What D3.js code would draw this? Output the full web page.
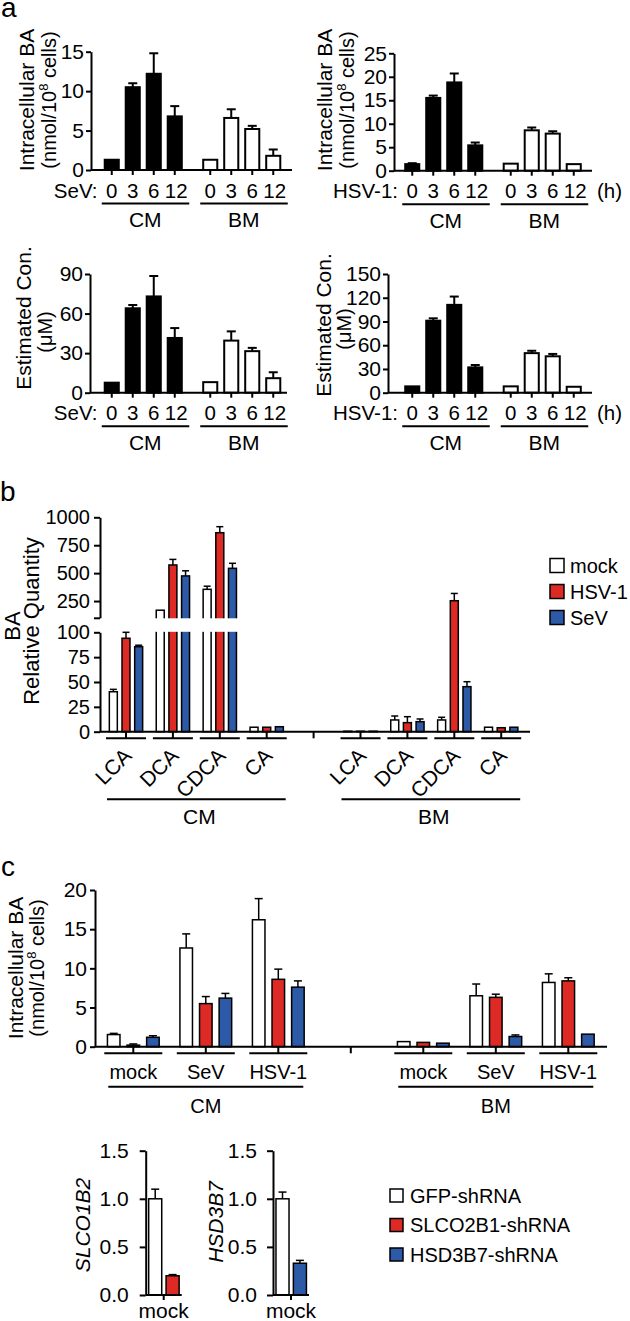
<!DOCTYPE html>
<html><head><meta charset="utf-8">
<script src="https://cdn.jsdelivr.net/npm/d3@7"></script>
<style>body{margin:0;background:#fff}</style>
</head><body>
<script>
// ---------------- DATA ----------------
// Panel a
const timeLabels = ["0", "3", "6", "12"];
const cellGroups = ["CM", "BM"];
const sevIntraCM = [1.3, 10.5, 12.2, 6.8];
const sevIntraCMErr = [0.1, 0.5, 2.6, 1.3];
const sevIntraBM = [1.3, 6.6, 5.2, 1.8];
const sevIntraBMErr = [0.1, 1.1, 0.4, 0.8];
const hsvIntraCM = [1.4, 15.5, 18.8, 5.4];
const hsvIntraCMErr = [0.2, 0.5, 1.9, 0.6];
const hsvIntraBM = [1.5, 8.6, 7.9, 1.4];
const hsvIntraBMErr = [0, 0.6, 0.5, 0];
const sevConCM = [7.6, 64, 73, 41.5];
const sevConCMErr = [0.5, 2.5, 15.5, 7.5];
const sevConBM = [8, 39.5, 31.5, 11];
const sevConBMErr = [0.5, 7, 2.5, 4.5];
const hsvConCM = [8, 91, 111, 32];
const hsvConCMErr = [0.5, 3, 10.5, 3];
const hsvConBM = [8, 50, 46, 7.5];
const hsvConBMErr = [0, 3, 3, 0];
const ticksSevIntra = [0, 5, 10, 15];
const ticksHsvIntra = [0, 5, 10, 15, 20, 25];
const ticksSevCon = [0, 30, 60, 90];
const ticksHsvCon = [0, 30, 60, 90, 120, 150];

// Panel b
const baTypes = ["LCA", "DCA", "CDCA", "CA"];
const bSeries = ["mock", "HSV-1", "SeV"];
const bMockCM = [40.2, 168, 355, 4.5];
const bMockCMErr = [2.4, 6, 28, 0.5];
const bHsvCM = [94, 573, 862, 4.5];
const bHsvCMErr = [6, 50, 54, 0.5];
const bSevCM = [85.5, 475, 543, 5];
const bSevCMErr = [1.5, 46, 45, 0.5];
const bMockBM = [0.5, 11.8, 11.8, 4.5];
const bMockBMErr = [0, 4, 2.7, 0.3];
const bHsvBM = [0.5, 9.1, 253, 4];
const bHsvBMErr = [0, 6, 65, 0.3];
const bSevBM = [0.5, 10.1, 45.3, 4.5];
const bSevBMErr = [0, 2.7, 5, 0.3];
const bTicksLower = [0, 25, 50, 75, 100];
const bTicksUpper = [100, 250, 500, 750, 1000];

// Panel c
const infections = ["mock", "SeV", "HSV-1"];
const shSeries = ["GFP-shRNA", "SLCO2B1-shRNA", "HSD3B7-shRNA"];
const cGfpCM = [1.55, 12.6, 16.2];
const cGfpCMErr = [0.15, 1.8, 2.7];
const cSlcoCM = [0.2, 5.5, 8.6];
const cSlcoCMErr = [0.15, 0.9, 1.3];
const cHsdCM = [1.2, 6.2, 7.6];
const cHsdCMErr = [0.2, 0.6, 0.8];
const cGfpBM = [0.65, 6.5, 8.2];
const cGfpBMErr = [0.1, 1.5, 1.1];
const cSlcoBM = [0.55, 6.3, 8.4];
const cSlcoBMErr = [0.05, 0.4, 0.4];
const cHsdBM = [0.45, 1.3, 1.6];
const cHsdBMErr = [0.05, 0.2, 0.1];
const cTicks = [0, 5, 10, 15, 20];
const kdBars = ["GFP-shRNA", "knockdown"];
const kdSlco = [1.0, 0.2];
const kdSlcoErr = [0.1, 0.012];
const kdHsd = [1.0, 0.33];
const kdHsdErr = [0.07, 0.03];
const kdTicks = [0, 0.5, 1.0, 1.5];

// ---------------- STYLE ----------------
const FONT = "'Liberation Sans', Arial, Helvetica, sans-serif";
const RED = "#dd2a24", BLUE = "#2c5aa6";
const seriesFill = ["#ffffff", RED, BLUE];
const shFill = ["#ffffff", RED, BLUE];

const svg = d3.select("body").append("svg").attr("width", 630).attr("height", 1321)
  .style("font-family", FONT);

function txt(g, x, y, s, size, anchor) {
  return g.append("text").attr("x", x).attr("y", y).attr("font-size", size)
    .attr("text-anchor", anchor || "start").attr("fill", "#000").text(s);
}
function line(g, x1, y1, x2, y2, w) {
  return g.append("line").attr("x1", x1).attr("y1", y1).attr("x2", x2).attr("y2", y2)
    .attr("stroke", "#000").attr("stroke-width", w || 2);
}
function errBar(g, cx, yv, ye, cap, w) {
  if (yv - ye < 0.8) return;
  line(g, cx, yv, cx, ye, w);
  line(g, cx - cap / 2, ye, cx + cap / 2, ye, w);
}
function rotTitle(g, x, cy, s, size, italic) {
  const t = g.append("text").attr("transform", `translate(${x},${cy}) rotate(-90)`)
    .attr("text-anchor", "middle").attr("font-size", size).attr("fill", "#000");
  if (italic) t.attr("font-style", "italic");
  t.text(s);
  return t;
}
function rotUnits(g, x, cy, size) {
  const t = g.append("text").attr("transform", `translate(${x},${cy}) rotate(-90)`)
    .attr("text-anchor", "middle").attr("font-size", size).attr("fill", "#000");
  t.append("tspan").text("(nmol/10");
  t.append("tspan").attr("font-size", size * 0.65).attr("dy", -size * 0.38).text("8");
  t.append("tspan").attr("dy", size * 0.38).text(" cells)");
  return t;
}
function styleAxis(sel, size) {
  sel.attr("font-family", FONT).attr("font-size", size);
  sel.select(".domain").attr("stroke-width", 2);
  sel.selectAll(".tick line").attr("stroke-width", 2);
  sel.selectAll(".tick text").attr("fill", "#000");
}

// ---------------- PANEL A ----------------
function drawA(cfg) {
  const g = svg.append("g");
  const y = d3.scaleLinear().domain([0, cfg.ticks[cfg.ticks.length - 1]]).range([cfg.y0, cfg.yTop]);
  const outer = d3.scaleBand().domain(cellGroups).range([cfg.ox + 101.25, cfg.ox + 283.75]).paddingInner(0.147);
  const inner = d3.scaleBand().domain(timeLabels).range([0, outer.bandwidth()]).paddingInner(0.33).paddingOuter(0.165);
  const groups = [
    { k: "CM", v: cfg.cm, e: cfg.cmErr, fill: "#000" },
    { k: "BM", v: cfg.bm, e: cfg.bmErr, fill: "#fff" }
  ];
  groups.forEach(gr => {
    timeLabels.forEach((t, i) => {
      const x = outer(gr.k) + inner(t), w = inner.bandwidth(), cx = x + w / 2;
      errBar(g, cx, y(gr.v[i]), y(gr.v[i] + gr.e[i]), 9, 2);
      g.append("rect").attr("x", x).attr("y", y(gr.v[i])).attr("width", w)
        .attr("height", cfg.y0 - y(gr.v[i])).attr("fill", gr.fill)
        .attr("stroke", "#000").attr("stroke-width", 2);
      line(g, cx, cfg.y0, cx, cfg.y0 + 5, 2);
      txt(g, cx + (t.length > 1 ? 1.5 : 0), cfg.y0 + 27.5, t, 20.5, "middle");
    });
    const x0 = outer(gr.k), x1 = x0 + outer.bandwidth();
    line(g, x0 + 0.5, cfg.y0 + 33.5, x1 + 4, cfg.y0 + 33.5, 2);
    txt(g, (x0 + x1) / 2 + 2, cfg.y0 + 57, gr.k, 21, "middle");
  });
  line(g, cfg.axisX, cfg.y0, cfg.xEnd, cfg.y0, 2);
  g.append("g").attr("transform", `translate(${cfg.axisX},0)`)
    .call(d3.axisLeft(y).tickValues(cfg.ticks).tickSize(5).tickSizeOuter(0).tickPadding(2))
    .call(s => styleAxis(s, 21));
  txt(g, cfg.ox + 97.5, cfg.y0 + 27.5, cfg.virus, 20.5, "end");
  if (cfg.showH) txt(g, cfg.xEnd + 5, cfg.y0 + 27.5, "(h)", 20.5, "start");
  if (cfg.kind === "intra") {
    rotTitle(g, cfg.t1x, cfg.tcy, "Intracellular BA", 21);
    rotUnits(g, cfg.t2x, cfg.tcy, 20);
  } else {
    rotTitle(g, cfg.t1x, cfg.tcy, "Estimated Con.", 21);
    rotTitle(g, cfg.t2x, cfg.tcy2, "(\u03bcM)", 20);
  }
}

txt(svg, 1, 17, "a", 28);
drawA({ ox: 0, axisX: 91, xEnd: 292, y0: 170, yTop: 51.7, ticks: ticksSevIntra,
  cm: sevIntraCM, cmErr: sevIntraCMErr, bm: sevIntraBM, bmErr: sevIntraBMErr,
  virus: "SeV:", showH: false, kind: "intra", t1x: 34, t2x: 56, tcy: 100 });
drawA({ ox: 300.5, axisX: 394, xEnd: 592, y0: 170.7, yTop: 53.3, ticks: ticksHsvIntra,
  cm: hsvIntraCM, cmErr: hsvIntraCMErr, bm: hsvIntraBM, bmErr: hsvIntraBMErr,
  virus: "HSV-1:", showH: true, kind: "intra", t1x: 332, t2x: 354, tcy: 100 });
drawA({ ox: 0, axisX: 90, xEnd: 287, y0: 392.7, yTop: 274, ticks: ticksSevCon,
  cm: sevConCM, cmErr: sevConCMErr, bm: sevConBM, bmErr: sevConBMErr,
  virus: "SeV:", showH: false, kind: "con", t1x: 31, t2x: 52, tcy: 318, tcy2: 332 });
drawA({ ox: 300.5, axisX: 388, xEnd: 592, y0: 392.7, yTop: 274, ticks: ticksHsvCon,
  cm: hsvConCM, cmErr: hsvConCMErr, bm: hsvConBM, bmErr: hsvConBMErr,
  virus: "HSV-1:", showH: true, kind: "con", t1x: 331, t2x: 351, tcy: 325, tcy2: 329 });

// ---------------- PANEL B ----------------
(function () {
  const g = svg.append("g");
  txt(g, 0, 501, "b", 28);
  const yLow = d3.scaleLinear().domain([0, 100]).range([731.7, 632.3]);
  const yUp = d3.scaleLinear().domain([100, 1000]).range([617.8, 517.3]);
  const yB = v => (v <= 100 ? yLow(v) : yUp(v));
  const y0 = yLow(0);
  const slot = d3.scaleBand().domain(d3.range(9)).range([102.55, 524.65]);
  const inner = d3.scaleBand().domain(bSeries).range([-19, 19]).paddingInner(0.37).paddingOuter(0.185);
  const cells = [
    { k: "CM", s0: 0, vals: [bMockCM, bHsvCM, bSevCM], errs: [bMockCMErr, bHsvCMErr, bSevCMErr] },
    { k: "BM", s0: 5, vals: [bMockBM, bHsvBM, bSevBM], errs: [bMockBMErr, bHsvBMErr, bSevBMErr] }
  ];
  const cen = i => slot(i) + slot.bandwidth() / 2;
  cells.forEach(c => {
    baTypes.forEach((t, j) => {
      const gc = cen(c.s0 + j);
      bSeries.forEach((s, k) => {
        const v = c.vals[k][j];
        g.append("rect").attr("x", gc + inner(s)).attr("y", yB(v)).attr("width", inner.bandwidth())
          .attr("height", y0 - yB(v)).attr("fill", seriesFill[k])
          .attr("stroke", "#000").attr("stroke-width", 1.5);
      });
    });
  });
  // axis break gap (CM region)
  g.append("rect").attr("x", 94).attr("y", yUp(100) + 0.5).attr("width", 150)
    .attr("height", yLow(100) - yUp(100) - 1).attr("fill", "#fff");
  cells.forEach(c => {
    baTypes.forEach((t, j) => {
      const gc = cen(c.s0 + j);
      bSeries.forEach((s, k) => {
        const v = c.vals[k][j], e = c.errs[k][j];
        const cx = gc + inner(s) + inner.bandwidth() / 2;
        errBar(g, cx, yB(v), yB(v + e), 7, 1.5);
      });
      line(g, gc, y0, gc, y0 + 6.6, 2);
      line(g, gc - 20, y0 + 6.6, gc + 20, y0 + 6.6, 2);
      g.append("text").attr("transform", `translate(${gc + 7},757) rotate(-45)`)
        .attr("text-anchor", "end").attr("font-size", 21).attr("fill", "#000").text(t);
    });
    const a = cen(c.s0), b = cen(c.s0 + 3);
    line(g, a - 19, 799.3, b + 19, 799.3, 2);
    txt(g, (a + b) / 2 + 3, 824, c.k, 21, "middle");
  });
  line(g, cen(4), y0, cen(4), y0 + 6.6, 2);
  line(g, 100, y0, 530, y0, 2);
  g.append("g").attr("transform", "translate(100,0)")
    .call(d3.axisLeft(yLow).tickValues(bTicksLower).tickSize(6).tickSizeOuter(0).tickPadding(4))
    .call(s => styleAxis(s, 20));
  g.append("g").attr("transform", "translate(100,0)")
    .call(d3.axisLeft(yUp).tickValues(bTicksUpper).tickSize(6).tickSizeOuter(0).tickPadding(4)
      .tickFormat(d => (d === 100 ? "" : d)))
    .call(s => styleAxis(s, 20));
  rotTitle(g, 19.5, 626, "BA", 22);
  rotTitle(g, 39, 621, "Relative Quantity", 22);
  bSeries.forEach((s, k) => {
    const yy = 558.5 + k * 26;
    g.append("rect").attr("x", 550).attr("y", yy).attr("width", 14).attr("height", 14)
      .attr("fill", seriesFill[k]).attr("stroke", "#000").attr("stroke-width", 1.5);
    txt(g, 570, yy + 14.5, s, 20, "start");
  });
})();

// ---------------- PANEL C ----------------
(function () {
  const g = svg.append("g");
  txt(g, 1, 876, "c", 28);
  const y = d3.scaleLinear().domain([0, 20]).range([1046.7, 890]);
  const y0 = y(0);
  const slot = d3.scaleBand().domain(d3.range(7)).range([97.05, 604.55]);
  const inner = d3.scaleBand().domain(shSeries).range([-29.4, 29.4]).paddingInner(0.36).paddingOuter(0.18);
  const cen = i => slot(i) + slot.bandwidth() / 2;
  const cells = [
    { k: "CM", s0: 0, vals: [cGfpCM, cSlcoCM, cHsdCM], errs: [cGfpCMErr, cSlcoCMErr, cHsdCMErr] },
    { k: "BM", s0: 4, vals: [cGfpBM, cSlcoBM, cHsdBM], errs: [cGfpBMErr, cSlcoBMErr, cHsdBMErr] }
  ];
  cells.forEach(c => {
    infections.forEach((inf, j) => {
      const gc = cen(c.s0 + j);
      shSeries.forEach((s, k) => {
        const v = c.vals[k][j], e = c.errs[k][j];
        const x = gc + inner(s), cx = x + inner.bandwidth() / 2;
        errBar(g, cx, y(v), y(v + e), 8, 1.5);
        g.append("rect").attr("x", x).attr("y", y(v)).attr("width", inner.bandwidth())
          .attr("height", y0 - y(v)).attr("fill", shFill[k])
          .attr("stroke", "#000").attr("stroke-width", 1.5);
      });
      line(g, gc, y0, gc, y0 + 6.6, 2);
      line(g, gc - 29, y0 + 6.6, gc + 29, y0 + 6.6, 2);
      txt(g, gc, 1079, inf, 20, "middle");
    });
    const a = cen(c.s0), b = cen(c.s0 + 2);
    line(g, a - 25, 1086.7, b + 25, 1086.7, 2);
    txt(g, (a + b) / 2, 1113, c.k, 20, "middle");
  });
  line(g, cen(3), y0, cen(3), y0 + 6.6, 2);
  line(g, 95, y0, 607, y0, 2);
  g.append("g").attr("transform", "translate(95,0)")
    .call(d3.axisLeft(y).tickValues(cTicks).tickSize(5).tickSizeOuter(0).tickPadding(3))
    .call(s => styleAxis(s, 21));
  rotTitle(g, 23, 968, "Intracellular BA", 21);
  rotUnits(g, 44, 968, 20);

  function kd(axisX, vals, errs, fillIdx, title, titleX, titleCy, pad) {
    const yk = d3.scaleLinear().domain([0, 1.5]).range([1295, 1150.7]);
    const xb = d3.scaleBand().domain(kdBars).range([axisX + 0.8, axisX + 35.6]).paddingInner(0.25).paddingOuter(0.125);
    kdBars.forEach((b, i) => {
      const x = xb(b), w = xb.bandwidth(), cx = x + w / 2;
      errBar(g, cx, yk(vals[i]), yk(vals[i] + errs[i]), 8, 1.5);
      g.append("rect").attr("x", x).attr("y", yk(vals[i])).attr("width", w)
        .attr("height", yk(0) - yk(vals[i])).attr("fill", i === 0 ? shFill[0] : shFill[fillIdx])
        .attr("stroke", "#000").attr("stroke-width", 1.5);
    });
    const mid = axisX + 18;
    line(g, axisX, yk(0), axisX + 36, yk(0), 2);
    line(g, mid, yk(0), mid, yk(0) + 5, 2);
    txt(g, mid, 1318, "mock", 21, "middle");
    g.append("g").attr("transform", `translate(${axisX},0)`)
      .call(d3.axisLeft(yk).tickValues(kdTicks).tickSize(6).tickSizeOuter(0).tickPadding(pad)
        .tickFormat(d3.format(".1f")))
      .call(s => styleAxis(s, 21));
    rotTitle(g, titleX, titleCy, title, 21, true);
  }
  kd(145.7, kdSlco, kdSlcoErr, 1, "SLCO1B2", 90, 1225, 11);
  kd(273, kdHsd, kdHsdErr, 2, "HSD3B7", 223, 1222, 10);

  shSeries.forEach((s, k) => {
    const yy = 1189 + k * 29.5;
    g.append("rect").attr("x", 390).attr("y", yy).attr("width", 13).attr("height", 13)
      .attr("fill", shFill[k]).attr("stroke", "#000").attr("stroke-width", 1.5);
    txt(g, 410, yy + 13.5, s, 20, "start");
  });
})();
</script>
</body></html>
